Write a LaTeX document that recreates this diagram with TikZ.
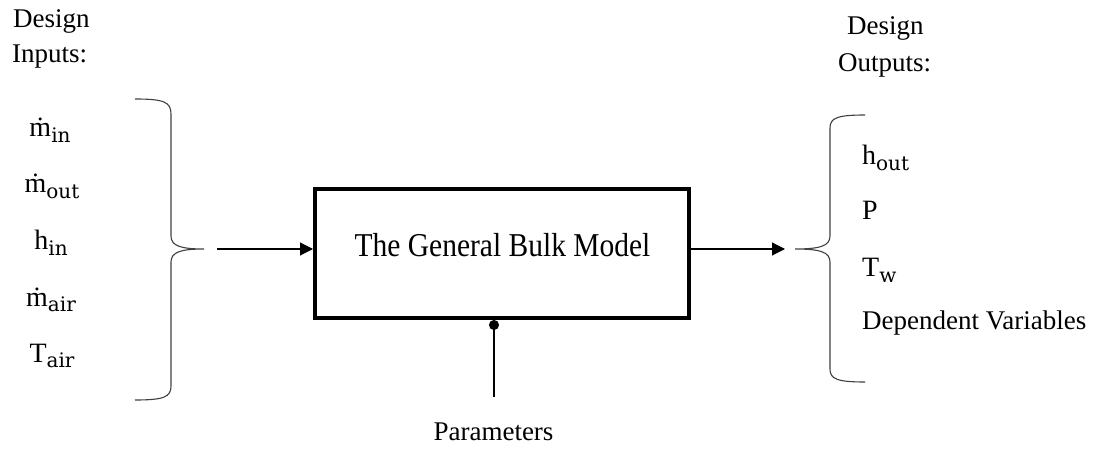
\documentclass[tikz,border=0pt]{standalone}
\usepackage{fontspec}
\setmainfont{Liberation Serif}
\newfontfamily\subfont{DejaVu Serif}
\usetikzlibrary{arrows.meta}
\newcommand{\lowsub}[1]{\raisebox{-0.2em}{\subfont\fontsize{20}{23}\selectfont #1}}
\tikzset{
  lbl/.style={font=\fontsize{27}{32}\selectfont, inner sep=0pt},
  var/.style={font=\fontsize{28}{32}\selectfont, inner sep=0pt},
  brc/.style={line width=1.1pt, draw=black!75},
  conn/.style={line width=1.1pt, -{Triangle[length=13pt,width=13pt]}},
}
\begin{document}
\begin{tikzpicture}[x=1pt,y=-1pt]
\useasboundingbox (0,0) rectangle (1093,449);
% titles
\node[lbl, anchor=base west] (din) at (13,28) {Design};
\node[lbl, anchor=base west] (dinb) at (12,63) {Inputs:};
\node[lbl, anchor=base west] (dout) at (847,35) {Design};
\node[lbl, anchor=base west] (doutb) at (838,72) {Outputs:};
% input labels
\node[var, anchor=base] (i1) at (50,137) {\.m\lowsub{in}};
\node[var, anchor=base] (i2) at (52,193) {\.m\lowsub{out}};
\node[var, anchor=base] (i3) at (51,250) {h\lowsub{in}};
\node[var, anchor=base] (i4) at (51,306) {\.m\lowsub{air}};
\node[var, anchor=base] (i5) at (52,362) {T\lowsub{air}};
% output labels
\node[var, anchor=base west] (o1) at (862,165) {h\lowsub{out}};
\node[var, anchor=base west] (o2) at (862,220) {P};
\node[var, anchor=base west] (o3) at (862,277) {T\lowsub{w}};
\node[lbl, anchor=base west] (o4) at (862,330) {Dependent Variables};
% braces
\draw[brc] (135,99) .. controls (164,99) and (171,102) .. (171,114) -- (171,236)
  .. controls (171,246) and (181,249) .. (204,249)
  .. controls (181,249) and (171,252) .. (171,262) -- (171,386)
  .. controls (171,397) and (164,400) .. (135,400);
\draw[brc] (865,115) .. controls (837,115) and (830,118) .. (830,128) -- (830,236)
  .. controls (830,246) and (820,249) .. (795,249)
  .. controls (820,249) and (830,252) .. (830,262) -- (830,369)
  .. controls (830,379) and (837,382) .. (865,382);
% box
\node[draw, line width=4pt, minimum width=374pt, minimum height=129pt, inner sep=0pt] (box) at (502,253.5) {};
\node[font=\fontsize{29.5}{34}\selectfont, inner sep=0pt, anchor=base] (boxt) at (502.5,257) {\scalebox{1}[1.13]{The General Bulk Model}};
% connectors
\coordinate (ain) at (217,249);
\coordinate (aout) at (785,249);
\coordinate (pend) at (494,397);
\draw[conn] (ain) -- (ain -| box.west);
\draw[conn] (aout -| box.east) -- (aout);
\draw[line width=1.1pt, {Circle[length=10pt]}-] (pend |- box.south) -- (pend);
\node[lbl, anchor=base] (par) at (493.5,440) {Parameters};
\end{tikzpicture}
\end{document}
